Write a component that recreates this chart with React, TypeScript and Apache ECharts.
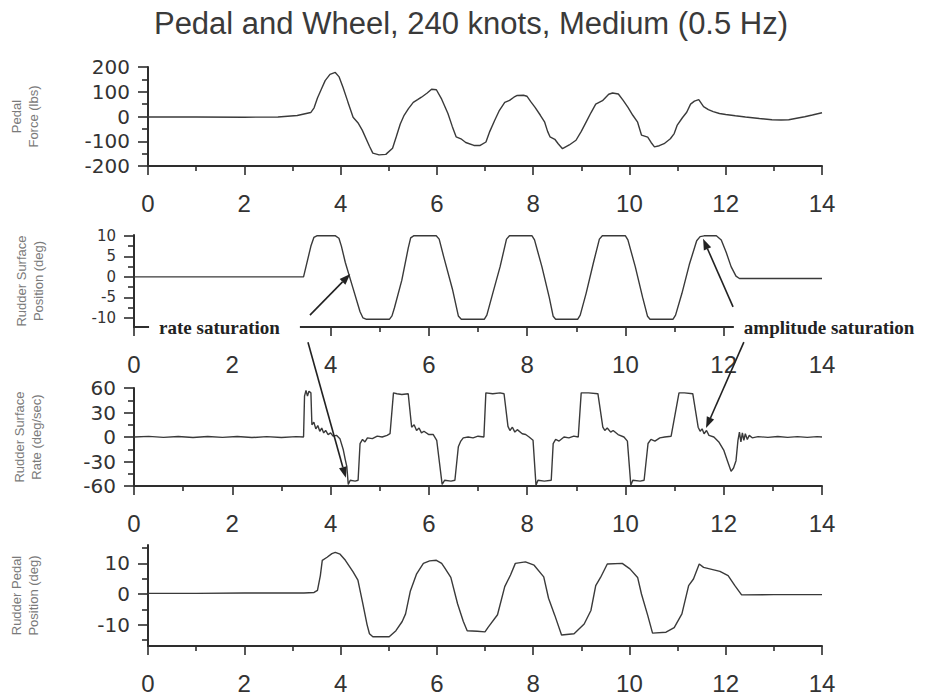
import { useEffect, useRef } from "react";
import * as echarts from "echarts";

const TITLE = "Pedal and Wheel, 240 knots, Medium (0.5 Hz)";

const panelNames = [
  "Pedal\nForce (lbs)",
  "Rudder Surface\nPosition (deg)",
  "Rudder Surface\nRate (deg/sec)",
  "Rudder Pedal\nPosition (deg)",
];

const xRange = [0, 14];
const xInterval = 2;

const yRanges = [
  [-200, 200],
  [-12.2, 10.2],
  [-60, 60],
  [-17, 16],
];
const yMajorTicks = [
  [-200, -100, 0, 100, 200],
  [-10, -5, 0, 5, 10],
  [-60, -30, 0, 30, 60],
  [-10, 0, 10],
];
const yMinorTicks = [
  [-150, -50, 50, 150],
  [-7.5, -2.5, 2.5, 7.5],
  [-45, -15, 15, 45],
  [-15, -5, 5, 15],
];

// Pedal force (lbs) vs time (s)
const pedalForce = [
  [0, -2], [1, -2], [2, -3], [2.7, -2], [3.1, 4], [3.38, 16], [3.45, 35], [3.52, 75], [3.6, 110],
  [3.68, 145], [3.78, 170], [3.89, 178], [3.97, 160], [4.05, 118], [4.15, 60], [4.26, -3], [4.36, -25],
  [4.45, -55], [4.6, -120], [4.67, -148], [4.8, -155], [4.94, -153], [5.08, -128], [5.16, -80], [5.24, -30],
  [5.32, 5], [5.41, 32], [5.51, 57], [5.6, 68], [5.68, 78], [5.8, 95], [5.89, 110], [5.99, 108], [6.1, 70],
  [6.23, 12], [6.32, -40], [6.4, -82], [6.5, -90], [6.6, -105], [6.77, -117], [6.9, -117], [7.02, -103],
  [7.1, -60], [7.2, -16], [7.3, 25], [7.41, 57], [7.51, 65], [7.6, 78], [7.67, 85], [7.8, 86], [7.87, 82],
  [7.95, 60], [8.04, 37], [8.15, 5], [8.24, -23], [8.3, -60], [8.35, -82], [8.45, -92], [8.52, -110],
  [8.61, -130], [8.75, -115], [8.89, -96], [9.0, -60], [9.1, -23], [9.2, 15], [9.3, 50], [9.44, 64],
  [9.57, 90], [9.65, 95], [9.77, 91], [9.87, 65], [9.97, 37], [10.07, 5], [10.17, -23], [10.25, -75],
  [10.38, -83], [10.45, -105], [10.52, -123], [10.62, -118], [10.72, -110], [10.85, -90], [10.93, -69],
  [10.99, -36], [11.1, -5], [11.19, 17], [11.27, 50], [11.35, 62], [11.44, 68], [11.54, 40], [11.64, 28],
  [11.74, 20], [11.87, 12], [12.0, 8], [12.2, 3], [12.41, -2], [12.7, -8], [12.96, -13], [13.15, -14],
  [13.31, -13], [13.5, -6], [13.64, -1], [13.8, 6], [14, 15],
];

// Rudder surface position (deg)
const rudderPosition = [
  [0, 0], [3.45, 0], [3.5, 2.5], [3.6, 7.5], [3.66, 9.6], [3.72, 10], [4.1, 10], [4.17, 9.4], [4.22, 7.5],
  [4.3, 3.5], [4.45, -2.5], [4.6, -8.5], [4.66, -10], [4.72, -10.3], [5.2, -10.3], [5.25, -9.5], [5.3, -7.5],
  [5.45, -0.8], [5.58, 7], [5.63, 9.5], [5.69, 10], [6.15, 10], [6.21, 9.2], [6.3, 5], [6.48, -3], [6.6, -9.5],
  [6.66, -10.3], [7.13, -10.3], [7.18, -9.3], [7.3, -4], [7.45, 2.5], [7.58, 9.2], [7.64, 10], [8.1, 10],
  [8.15, 9], [8.3, 2.5], [8.45, -5], [8.53, -9.6], [8.58, -10.3], [9.03, -10.3], [9.08, -9.3], [9.2, -4],
  [9.35, 3.5], [9.47, 9.2], [9.53, 10], [10.0, 10], [10.05, 9], [10.2, 2.5], [10.35, -5], [10.45, -9.6],
  [10.5, -10.3], [10.97, -10.3], [11.02, -9.3], [11.15, -4], [11.3, 3], [11.45, 8.8], [11.52, 9.8],
  [11.6, 10], [11.85, 10], [11.95, 9], [12.05, 6], [12.15, 2.5], [12.25, 0.2], [12.32, -0.4], [13, -0.4],
  [14, -0.4],
];

// Rudder surface rate (deg/sec)
const rudderRate = [
  [0, 0], [0.3, 0.8], [0.6, -0.5], [0.9, 0.6], [1.2, -0.6], [1.5, 0.7], [1.8, -0.5], [2.1, 0.6], [2.4, -0.7],
  [2.7, 0.5], [3.0, -0.6], [3.3, 0.4], [3.45, 0], [3.47, 50], [3.5, 57], [3.53, 50], [3.56, 56], [3.6, 54],
  [3.62, 15], [3.66, 18], [3.7, 10], [3.74, 14], [3.78, 7], [3.82, 11], [3.86, 5], [3.9, 8], [3.95, 3],
  [4.0, 5], [4.05, 1], [4.12, 2], [4.19, -2], [4.26, -16], [4.3, -28], [4.33, -36], [4.36, -58], [4.4, -53],
  [4.5, -54], [4.56, -53], [4.6, -8], [4.65, -3], [4.7, -6], [4.75, -1], [4.85, -2], [4.95, 1], [5.05, 0],
  [5.15, 2], [5.21, 4], [5.28, 54], [5.35, 53], [5.45, 52], [5.58, 53], [5.65, 12], [5.7, 15], [5.75, 8],
  [5.8, 11], [5.85, 5], [5.9, 7], [6.0, 3], [6.09, 3], [6.16, -4], [6.27, -58], [6.32, -53], [6.45, -54],
  [6.53, -53], [6.6, -12], [6.65, -5], [6.7, -1], [6.8, 0], [6.9, -1], [7.0, 1], [7.12, 0], [7.16, 54],
  [7.3, 53], [7.45, 54], [7.53, 53], [7.61, 13], [7.65, 8], [7.7, 12], [7.75, 6], [7.8, 9], [7.9, 4],
  [7.97, 3], [8.04, 0], [8.12, -4], [8.18, -59], [8.22, -53], [8.35, -54], [8.49, -53], [8.53, -8],
  [8.58, -3], [8.65, -5], [8.75, 0], [8.85, -1], [8.95, 1], [9.04, 0], [9.1, 54], [9.25, 54], [9.44, 53],
  [9.54, 12], [9.58, 8], [9.63, 11], [9.7, 6], [9.75, 8], [9.85, 3], [9.97, 0], [10.04, -5], [10.11, -59],
  [10.15, -53], [10.3, -54], [10.38, -53], [10.46, -8], [10.52, -3], [10.6, -5], [10.7, -1], [10.8, 0],
  [10.93, 1], [11.09, 54], [11.2, 54], [11.37, 53], [11.48, 12], [11.52, 7], [11.56, 10], [11.6, 4],
  [11.65, 8], [11.7, 2], [11.8, 0], [11.9, -6], [12.0, -16], [12.08, -30], [12.15, -42], [12.2, -38],
  [12.25, -29], [12.29, -4], [12.32, 6], [12.35, -6], [12.38, 5], [12.41, -4], [12.44, 4], [12.48, -3],
  [12.52, 2], [12.58, -1], [12.7, 0.5], [12.9, -0.5], [13.1, 0.6], [13.3, -0.5], [13.5, 0.5], [13.7, -0.4],
  [13.9, 0.5], [14, 0],
];

// Rudder pedal position (deg)
const pedalPosition = [
  [0, 0.2], [1, 0.2], [2, 0.3], [3, 0.3], [3.24, 0.3], [3.45, 0.5], [3.52, 1.2], [3.58, 6], [3.62, 11],
  [3.72, 12], [3.82, 13.2], [3.89, 13.6], [3.99, 13], [4.1, 11], [4.26, 7.2], [4.36, 4.5], [4.46, -3],
  [4.55, -10], [4.6, -13], [4.67, -14], [5.01, -14], [5.15, -12], [5.28, -9], [5.35, -6.5], [5.45, 1],
  [5.58, 6.6], [5.72, 10], [5.85, 10.8], [5.99, 11], [6.1, 10], [6.16, 8.6], [6.29, 5.4], [6.43, -3.2],
  [6.55, -9], [6.63, -12], [6.84, -12.2], [7.0, -12.4], [7.06, -11], [7.26, -6.8], [7.41, 2.4], [7.53, 6.2],
  [7.63, 10], [7.84, 10.5], [8.02, 9.4], [8.22, 5.6], [8.32, -1.4], [8.45, -7], [8.59, -13.4], [8.85, -13],
  [9.06, -9.8], [9.2, -5.4], [9.3, 2.7], [9.4, 5.4], [9.54, 9.8], [9.85, 10], [10.01, 8.2], [10.17, 5.4],
  [10.25, 0], [10.38, -7], [10.48, -12.8], [10.76, -12.5], [10.93, -11], [11.09, -6.5], [11.23, 2.7],
  [11.33, 4.9], [11.45, 9.8], [11.54, 8.7], [11.88, 7.4], [12.05, 6], [12.19, 2.7], [12.33, -0.3],
  [13, -0.2], [14, -0.2],
];

const seriesData = [pedalForce, rudderPosition, rudderRate, pedalPosition];

// Annotation texts and arrows, anchored in data coordinates of a panel
const annotationTexts = [
  { text: "rate saturation", panel: 1, at: [0.51, -12.2] },
  { text: "amplitude saturation", panel: 1, at: [12.41, -12.2] },
];
const annotationArrows = [
  { fromPanel: 1, from: [3.58, -9.3], toPanel: 1, to: [4.4, 0.7] },
  { fromPanel: 1, from: [3.54, -15.9], toPanel: 2, to: [4.31, -50] },
  { fromPanel: 1, from: [12.19, -7.3], toPanel: 1, to: [11.58, 9.3] },
  { fromPanel: 1, from: [12.41, -15.9], toPanel: 2, to: [11.64, 11] },
];

export default function App() {
  const ref = useRef<HTMLDivElement>(null);

  useEffect(() => {
    if (!ref.current) return;
    const chart = echarts.init(ref.current, null, { renderer: "svg" });

    const gridTops = [67, 235, 388, 545];
    const gridHeights = [99, 92, 98, 101];
    const nameGaps = [106, 87, 89, 106];
    const yLabelSizes = [20, 15, 20, 20];
    const axisColor = "#2e2e2e";
    const lineStyle = { color: axisColor, width: 1.6 };

    const grids = gridTops.map((t, i) => ({
      left: 134,
      top: t,
      width: 688,
      height: gridHeights[i],
    }));

    const xAxes = grids.map((_, i) => ({
      type: "value",
      gridIndex: i,
      min: xRange[0],
      max: xRange[1],
      interval: xInterval,
      axisLine: { onZero: false, lineStyle: { color: axisColor, width: 2 } },
      axisTick: { length: 9, lineStyle },
      minorTick: { show: true, splitNumber: 2, length: 5, lineStyle },
      splitLine: { show: false },
      minorSplitLine: { show: false },
      axisLabel: {
        fontSize: 24,
        color: "#333",
        margin: 25,
        fontFamily: "Liberation Sans, Arial, sans-serif",
      },
    }));

    const yAxes: any[] = [];
    grids.forEach((_, i) => {
      yAxes.push({
        type: "value",
        gridIndex: i,
        position: "left",
        min: yRanges[i][0],
        max: yRanges[i][1],
        name: panelNames[i],
        nameLocation: "middle",
        nameRotate: 90,
        nameGap: nameGaps[i],
        nameTextStyle: {
          fontSize: 13,
          lineHeight: 17,
          color: "#7a7a7a",
          fontFamily: "Liberation Sans, Arial, sans-serif",
        },
        axisLine: { show: true, onZero: false, lineStyle: { color: axisColor, width: 2 } },
        axisTick: { show: true, customValues: yMajorTicks[i], length: 10, lineStyle },
        axisLabel: {
          customValues: yMajorTicks[i],
          fontSize: yLabelSizes[i],
          lineHeight: yLabelSizes[i],
          color: "#333",
          margin: 18,
          fontFamily: "DejaVu Sans, sans-serif",
        },
        splitLine: { show: false },
      });
      yAxes.push({
        type: "value",
        gridIndex: i,
        position: "left",
        min: yRanges[i][0],
        max: yRanges[i][1],
        axisLine: { show: false, onZero: false },
        axisTick: { show: true, customValues: yMinorTicks[i], length: 6, lineStyle },
        axisLabel: { show: false },
        splitLine: { show: false },
      });
    });

    const series = seriesData.map((d, i) => ({
      type: "line",
      xAxisIndex: i,
      yAxisIndex: i * 2,
      data: d,
      showSymbol: false,
      symbol: "none",
      lineStyle: { color: "#3a3a3a", width: 1.4 },
      z: 3,
    }));

    chart.setOption({
      animation: false,
      backgroundColor: "#ffffff",
      title: {
        text: TITLE,
        left: "center",
        top: 3,
        textStyle: {
          fontFamily: "Liberation Sans, Arial, sans-serif",
          fontSize: 31,
          fontWeight: "normal",
          color: "#3a3a3a",
        },
      },
      grid: grids,
      xAxis: xAxes,
      yAxis: yAxes,
      series,
    });

    const toPx = (panel: number, p: number[]) =>
      chart.convertToPixel({ xAxisIndex: panel, yAxisIndex: panel * 2 } as any, p) as number[];

    const graphics: any[] = [];
    annotationTexts.forEach((a) => {
      const [x, y] = toPx(a.panel, a.at);
      graphics.push({
        type: "text",
        x: x - 10,
        y,
        z: 100,
        style: {
          text: a.text,
          fontSize: 19,
          fontWeight: "bold",
          fontFamily: "Liberation Serif, Times New Roman, serif",
          fill: "#222",
          align: "left",
          verticalAlign: "middle",
          backgroundColor: "#ffffff",
          padding: [7, 20, 7, 10],
        },
      });
    });
    annotationArrows.forEach((a) => {
      const [x1, y1] = toPx(a.fromPanel, a.from);
      const [x2, y2] = toPx(a.toPanel, a.to);
      const dx = x2 - x1;
      const dy = y2 - y1;
      const len = Math.sqrt(dx * dx + dy * dy) || 1;
      const ux = dx / len;
      const uy = dy / len;
      const head = 11;
      const half = 4;
      const bx = x2 - ux * head;
      const by = y2 - uy * head;
      graphics.push({
        type: "line",
        z: 101,
        shape: { x1, y1, x2: bx, y2: by },
        style: { stroke: "#222", lineWidth: 1.6 },
      });
      graphics.push({
        type: "polygon",
        z: 101,
        shape: {
          points: [
            [x2, y2],
            [bx - uy * half, by + ux * half],
            [bx + uy * half, by - ux * half],
          ],
        },
        style: { fill: "#222" },
      });
    });
    chart.setOption({ graphic: graphics });

    return () => chart.dispose();
  }, []);

  return (
    <div
      ref={ref}
      style={{ position: "absolute", left: 0, top: 0, width: 942, height: 696, background: "#fff" }}
    />
  );
}
